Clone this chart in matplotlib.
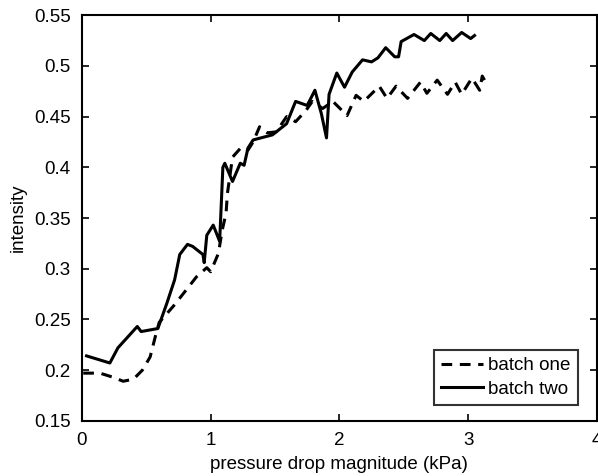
import matplotlib
matplotlib.use("Agg")
import matplotlib.pyplot as plt

plt.rcParams['font.family'] = ['Liberation Sans', 'DejaVu Sans']

# batch one (dashed)
x_one = [0.01, 0.14, 0.24, 0.32, 0.40, 0.47, 0.53, 0.57, 0.60, 0.71, 0.81, 0.89,
         0.97, 1.00, 1.06, 1.09, 1.12, 1.13, 1.17, 1.24, 1.29, 1.33, 1.38, 1.44,
         1.51, 1.59, 1.66, 1.74, 1.79, 1.87, 1.95, 2.06, 2.13, 2.19, 2.31, 2.37,
         2.44, 2.53, 2.63, 2.68, 2.76, 2.84, 2.90, 2.95, 3.03, 3.09, 3.11, 3.15]
y_one = [0.197, 0.197, 0.193, 0.189, 0.191, 0.200, 0.213, 0.233, 0.247, 0.263, 0.279, 0.292,
         0.301, 0.297, 0.315, 0.338, 0.355, 0.374, 0.410, 0.420, 0.417, 0.425, 0.440, 0.434,
         0.435, 0.450, 0.445, 0.456, 0.465, 0.458, 0.465, 0.451, 0.471, 0.465, 0.480, 0.468,
         0.480, 0.468, 0.484, 0.473, 0.486, 0.472, 0.484, 0.472, 0.488, 0.476, 0.490, 0.481]

# batch two (solid)
x_two = [0.036, 0.217, 0.28, 0.43, 0.46, 0.59, 0.66, 0.72, 0.76, 0.82, 0.86, 0.94,
         0.95, 0.97, 1.02, 1.07, 1.095, 1.11, 1.17, 1.23, 1.26, 1.29, 1.33, 1.48,
         1.59, 1.66, 1.75, 1.81, 1.86, 1.90, 1.92, 1.98, 2.04, 2.10, 2.18, 2.25,
         2.30, 2.36, 2.43, 2.46, 2.48, 2.58, 2.66, 2.71, 2.78, 2.83, 2.88, 2.95,
         3.02, 3.05]
y_two = [0.214, 0.207, 0.222, 0.243, 0.238, 0.241, 0.266, 0.289, 0.314, 0.324, 0.322, 0.314,
         0.306, 0.333, 0.343, 0.327, 0.400, 0.404, 0.386, 0.404, 0.402, 0.419, 0.427, 0.432,
         0.443, 0.465, 0.461, 0.476, 0.453, 0.429, 0.472, 0.493, 0.479, 0.494, 0.506, 0.504,
         0.508, 0.518, 0.509, 0.509, 0.524, 0.531, 0.525, 0.532, 0.525, 0.532, 0.525, 0.533,
         0.527, 0.530]

fig = plt.figure(figsize=(5.98, 4.76), dpi=100)
ax = fig.add_axes([0.137, 0.116, 0.861, 0.852])

ax.plot(x_one, y_one, color='black', linestyle=(0, (3.5, 2.5)), linewidth=2.2,
        label='batch one')
ax.plot(x_two, y_two, color='black', linestyle='-', linewidth=2.2, label='batch two')

ax.set_xlim(0, 4)
ax.set_ylim(0.15, 0.55)
ax.set_xticks([0, 1, 2, 3, 4])
ax.set_xticklabels(['0', '1', '2', '3', '4'])
ax.set_yticks([0.15, 0.2, 0.25, 0.3, 0.35, 0.4, 0.45, 0.5, 0.55])
ax.set_yticklabels(['0.15', '0.2', '0.25', '0.3', '0.35', '0.4', '0.45', '0.5', '0.55'])
ax.tick_params(direction='in', length=5, width=1.2, labelsize=13.5,
               top=True, right=True)
ax.tick_params(axis='x', pad=8)
ax.tick_params(axis='y', pad=8)
for s in ax.spines.values():
    s.set_linewidth(1.5)

ax.set_xlabel('pressure drop magnitude (kPa)', fontsize=13.5, labelpad=5)
ax.set_ylabel('intensity', fontsize=13.5, labelpad=5)

leg = ax.legend(loc='lower right', fontsize=13.5, frameon=True, fancybox=False,
                edgecolor='black', handlelength=2.2, handletextpad=0.3,
                borderpad=0.4, labelspacing=0.35, bbox_to_anchor=(0.982, 0.015))
leg.get_frame().set_linewidth(1.5)

fig.savefig('out.png', dpi=100)
